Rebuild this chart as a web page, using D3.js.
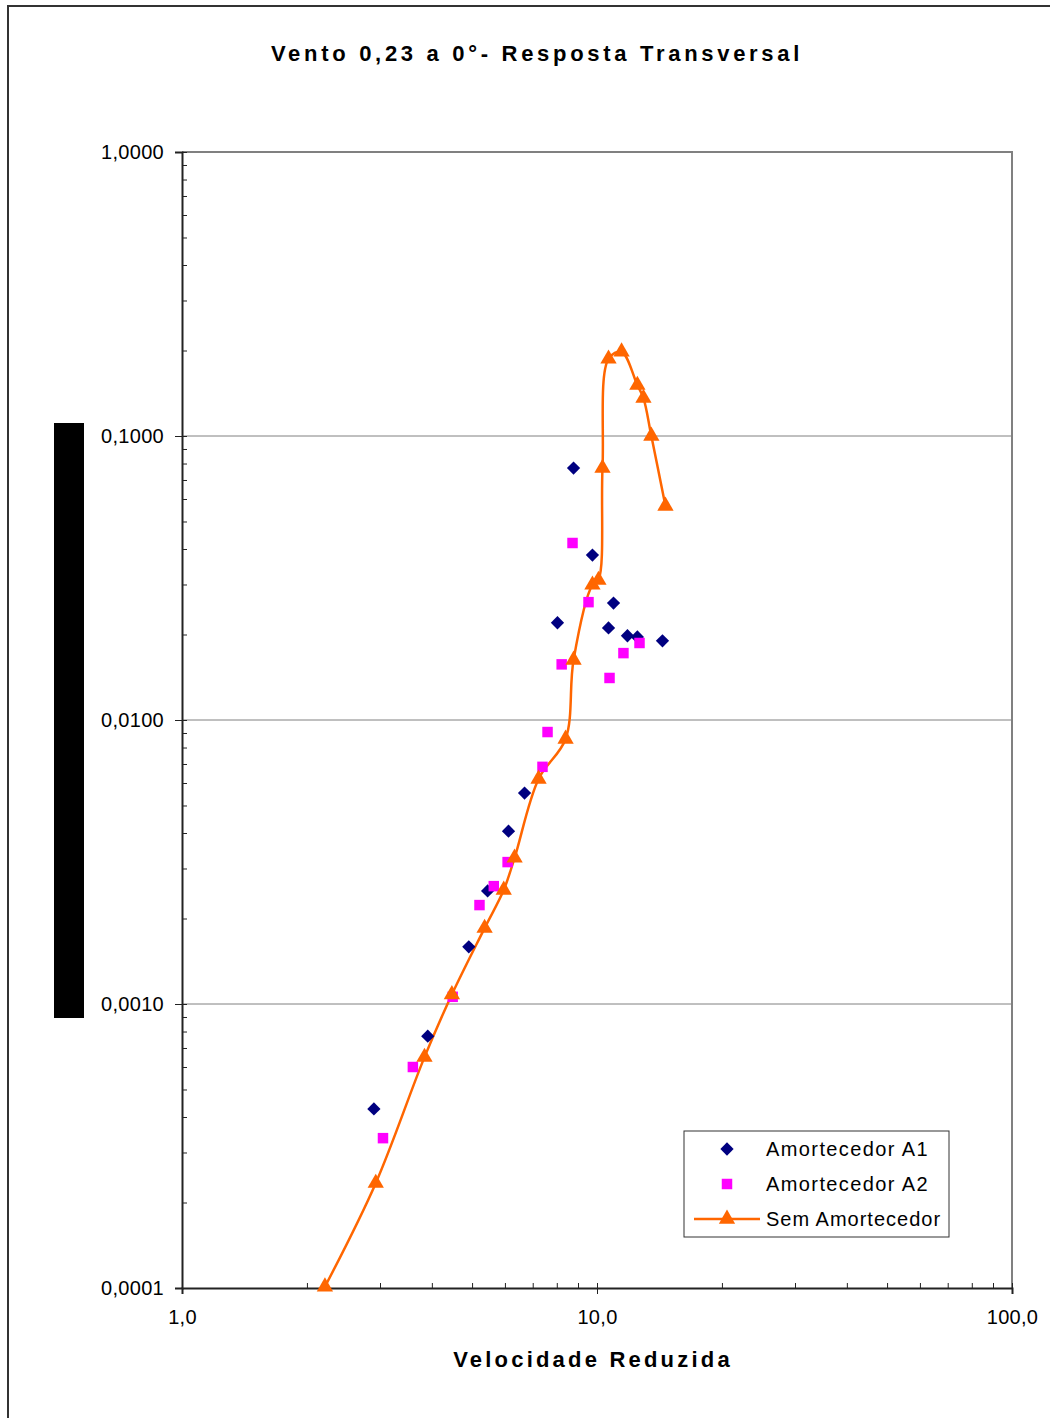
<!DOCTYPE html>
<html>
<head>
<meta charset="utf-8">
<script src="https://cdn.jsdelivr.net/npm/d3@7"></script>
<style>
  body { margin: 0; background: #fff; }
  text { font-family: "Liberation Sans", Arial, sans-serif; fill: #000; }
</style>
</head>
<body>
<div id="chart"></div>
<script>
// ---- data ----
const xTicks = [1, 10, 100];
const yTicks = [0.0001, 0.001, 0.01, 0.1, 1];
const seriesNames = ["Amortecedor A1", "Amortecedor A2", "Sem Amortecedor"];

const a1X = [2.90, 3.91, 4.91, 5.45, 6.12, 6.69, 8.03, 8.78, 9.75, 10.66, 10.96, 11.84, 12.51, 14.38];
const a1Y = [0.000427, 0.00077, 0.00159, 0.0025, 0.00406, 0.00553, 0.0220, 0.0771, 0.0381, 0.0211, 0.0258, 0.0198, 0.0196, 0.0190];

const a2X = [3.05, 3.60, 4.49, 5.21, 5.64, 6.09, 7.39, 7.60, 8.22, 8.73, 9.54, 10.72, 11.58, 12.66];
const a2Y = [0.000337, 0.0006, 0.00106, 0.00223, 0.0026, 0.00316, 0.00684, 0.00907, 0.0157, 0.0420, 0.0260, 0.01406, 0.0172, 0.01867];

const semX = [2.21, 2.93, 3.84, 4.47, 5.36, 5.96, 6.33, 7.23, 8.40, 8.78, 9.75, 10.08, 10.31, 10.66, 11.46, 12.51, 12.94, 13.52, 14.62];
const semY = [0.000101, 0.000234, 0.00065, 0.00108, 0.00185, 0.00252, 0.00327, 0.0062, 0.00857, 0.01627, 0.0299, 0.0311, 0.0771, 0.187, 0.198, 0.151, 0.136, 0.100, 0.0567];

// ---- canvas ----
const W = 1050, H = 1418;
const margin = {top: 152, left: 182, right: 38, bottom: 130};
const width = W - margin.left - margin.right,
      height = H - margin.top - margin.bottom;

const svg = d3.select("#chart").append("svg")
    .attr("width", W)
    .attr("height", H);

// outer chart frame (runs off right/bottom edges)
svg.append("path")
    .attr("d", `M8,${H + 5} L8,6 L${W + 5},6`)
    .attr("fill", "none")
    .attr("stroke", "#333")
    .attr("stroke-width", 2);

// black block left of y axis
svg.append("rect")
    .attr("x", 54).attr("y", 423)
    .attr("width", 30).attr("height", 595)
    .attr("fill", "#000");

// title
svg.append("text")
    .attr("x", 537)
    .attr("y", 61)
    .attr("text-anchor", "middle")
    .style("font-size", "22px")
    .style("font-weight", "bold")
    .style("letter-spacing", "3.7px")
    .text("Vento 0,23 a 0°- Resposta Transversal");

const g = svg.append("g")
    .attr("transform", `translate(${margin.left},${margin.top})`);

// ---- scales ----
const x = d3.scaleLog().domain([1, 100]).range([0, width]);
const y = d3.scaleLog().domain([0.0001, 1]).range([height, 0]);

function minors(lo, hi) {
  const out = [];
  for (let p = lo; p < hi; p *= 10)
    for (let k = 2; k <= 9; k++) out.push(p * k);
  return out;
}

// gridlines
g.selectAll(".grid")
  .data(yTicks.slice(1, -1))
  .enter().append("line")
    .attr("x1", 0).attr("x2", width)
    .attr("y1", d => y(d)).attr("y2", d => y(d))
    .attr("stroke", "#808080")
    .attr("stroke-width", 1);

// plot border (top & right gray)
g.append("path")
    .attr("d", `M0,0 L${width},0 L${width},${height}`)
    .attr("fill", "none")
    .attr("stroke", "#808080")
    .attr("stroke-width", 2);

// ---- axes ----
g.append("g")
    .call(d3.axisLeft(y).tickValues(yTicks).tickSize(7).tickPadding(11)
      .tickFormat(d => d.toFixed(4).replace(".", ",")));
g.append("g")
    .call(d3.axisRight(y).tickValues(yTicks.concat(minors(0.0001, 1))).tickSize(5).tickFormat(""))
    .call(a => a.select(".domain").remove());

g.append("g")
    .attr("transform", `translate(0,${height})`)
    .call(d3.axisBottom(x).tickValues(xTicks).tickSize(6).tickPadding(16)
      .tickFormat(d => d.toFixed(1).replace(".", ",")));
g.append("g")
    .attr("transform", `translate(0,${height})`)
    .call(d3.axisTop(x).tickValues(xTicks.concat(minors(1, 100))).tickSize(5).tickFormat(""))
    .call(a => a.select(".domain").remove());

g.selectAll(".domain").attr("stroke", "#222").attr("stroke-width", 2);
g.selectAll(".tick line").attr("stroke", "#222");
g.selectAll(".tick text")
    .style("font-size", "20px")
    .style("letter-spacing", "0.3px")
    .style("font-family", "'Liberation Sans', Arial, sans-serif")
    .attr("fill", "#000");

// x axis title
svg.append("text")
    .attr("x", 593)
    .attr("y", 1367)
    .attr("text-anchor", "middle")
    .style("font-size", "22px")
    .style("font-weight", "bold")
    .style("letter-spacing", "3.2px")
    .text("Velocidade Reduzida");

// ---- series ----
const semData = semX.map((v, i) => ({x: v, y: semY[i]}));
const a1Data = a1X.map((v, i) => ({x: v, y: a1Y[i]}));
const a2Data = a2X.map((v, i) => ({x: v, y: a2Y[i]}));

const line = d3.line()
    .x(d => x(d.x))
    .y(d => y(d.y))
    .curve(d3.curveCatmullRom.alpha(0.5));

g.append("path")
    .datum(semData)
    .attr("d", line)
    .attr("fill", "none")
    .attr("stroke", "#FF6600")
    .attr("stroke-width", 2.5);

const tri = d3.symbol().type(d3.symbolTriangle).size(115);
const dia = d3.symbol().type(d3.symbolSquare).size(88);
const sq = d3.symbol().type(d3.symbolSquare).size(110);

g.selectAll(".a1")
  .data(a1Data)
  .enter().append("path")
    .attr("d", dia)
    .attr("transform", d => `translate(${x(d.x)},${y(d.y)}) rotate(45)`)
    .attr("fill", "#000080");

g.selectAll(".a2")
  .data(a2Data)
  .enter().append("path")
    .attr("d", sq)
    .attr("transform", d => `translate(${x(d.x)},${y(d.y)})`)
    .attr("fill", "#FF00FF");

g.selectAll(".sem")
  .data(semData)
  .enter().append("path")
    .attr("d", tri)
    .attr("transform", d => `translate(${x(d.x)},${y(d.y)})`)
    .attr("fill", "#FF6600");

// ---- legend ----
const lg = svg.append("g").attr("transform", "translate(684,1131)");
lg.append("rect")
    .attr("width", 265).attr("height", 106)
    .attr("fill", "#fff")
    .attr("stroke", "#333")
    .attr("stroke-width", 1);

const rowY = [18, 53, 88];
lg.append("path").attr("d", dia).attr("transform", `translate(43,${rowY[0]}) rotate(45)`).attr("fill", "#000080");
lg.append("path").attr("d", sq).attr("transform", `translate(43,${rowY[1]})`).attr("fill", "#FF00FF");
lg.append("line")
    .attr("x1", 10).attr("x2", 76)
    .attr("y1", rowY[2]).attr("y2", rowY[2])
    .attr("stroke", "#FF6600").attr("stroke-width", 2.5);
lg.append("path").attr("d", tri).attr("transform", `translate(43,${rowY[2]})`).attr("fill", "#FF6600");

lg.selectAll(".lbl")
  .data(seriesNames)
  .enter().append("text")
    .attr("x", 82)
    .attr("y", (d, i) => rowY[i] + 7)
    .style("font-size", "20px")
    .style("letter-spacing", (d, i) => i === 2 ? "1px" : "1.4px")
    .text(d => d);
</script>
</body>
</html>
